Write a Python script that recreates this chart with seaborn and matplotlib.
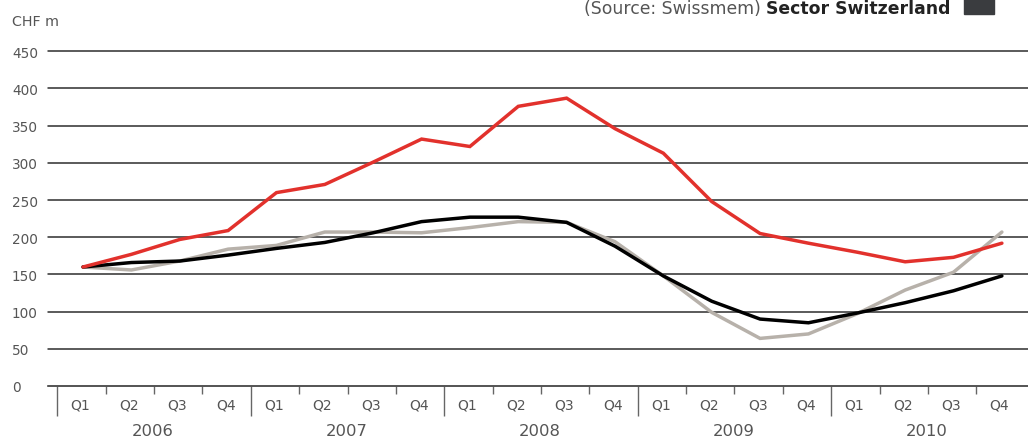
import numpy as np
import pandas as pd
import seaborn as sns
import matplotlib
matplotlib.use("Agg")
import matplotlib.pyplot as plt
from matplotlib.patches import Rectangle

# ---- data -------------------------------------------------------------
years = ["2006", "2007", "2008", "2009", "2010"]
quarters = ["Q1", "Q2", "Q3", "Q4"]

sector = [160, 177, 197, 209, 260, 271, 301, 332, 322, 376,
          387, 346, 313, 248, 205, 192, 180, 167, 173, 192]
industry = [160, 156, 168, 184, 189, 207, 207, 206, 213, 221,
            220, 194, 148, 99, 64, 70, 97, 129, 153, 207]
group = [160, 166, 168, 176, 185, 193, 206, 221, 227, 227,
         220, 188, 148, 114, 90, 85, 98, 112, 128, 148]

yticks = [0, 50, 100, 150, 200, 250, 300, 350, 400, 450]

# ---- long form table for seaborn --------------------------------------
n = len(sector)
pos = np.arange(n)
df = pd.concat([
    pd.DataFrame({"pos": pos, "value": industry, "series": "Industry"}),
    pd.DataFrame({"pos": pos, "value": group, "series": "Group"}),
    pd.DataFrame({"pos": pos, "value": sector, "series": "Sector"}),
])
palette = {"Industry": "#b7b1aa", "Group": "#000000", "Sector": "#e2312c"}

sns.set_style("white")
plt.rcParams["font.family"] = ["DejaVu Sans"]

W, H = 1028, 439
fig = plt.figure(figsize=(W / 100, H / 100), dpi=100)
ax_left, ax_bottom_px, ax_top_px = 48, 387, 52.3
ax = fig.add_axes([ax_left / W, 1 - ax_bottom_px / H, 1 - ax_left / W,
                   (ax_bottom_px - ax_top_px) / H])

# horizontal rules
for v in yticks:
    ax.axhline(v, color="#2e2e2e", lw=1.1, zorder=1, clip_on=False)

sns.lineplot(data=df, x="pos", y="value", hue="series",
             hue_order=["Industry", "Group", "Sector"], palette=palette,
             linewidth=2.5, legend=False, ax=ax, zorder=3)
for ln in ax.lines:
    ln.set_solid_joinstyle("miter")

ax.set_ylim(0, 450)
ax.set_xlim(-0.724, 19.54)
ax.set_xlabel("")
ax.set_ylabel("")
for s in ["top", "right", "left"]:
    ax.spines[s].set_visible(False)
ax.spines["bottom"].set_color("#555555")
ax.spines["bottom"].set_linewidth(1.1)

# y labels, left aligned at the figure margin
ax.set_yticks(yticks)
ax.set_yticklabels([str(v) for v in yticks])
ax.tick_params(axis="y", length=0, pad=25.9, labelsize=9.8,
               labelcolor="#555555")
for lab in ax.get_yticklabels():
    lab.set_horizontalalignment("left")

# x ticks: long separators between years, short between quarters
offset = 0.53
major = [4 * k - offset for k in range(len(years))]
minor = [i - offset for i in range(1, n) if i % 4 != 0]
ax.set_xticks(major)
ax.set_xticks(minor, minor=True)
ax.set_xticklabels([])
ax.tick_params(axis="x", which="both", bottom=True)
ax.tick_params(axis="x", which="major", direction="out", length=21.6,
               width=1.0, color="#666666")
ax.tick_params(axis="x", which="minor", direction="out", length=5.8,
               width=1.0, color="#666666")

for i in range(n):
    ax.annotate(quarters[i % 4], xy=(i - 0.05, 0),
                xycoords=("data", "axes fraction"),
                xytext=(0, -13.2), textcoords="offset points",
                ha="center", va="center", fontsize=10, color="#555555")
for k, yr in enumerate(years):
    ax.annotate(yr, xy=(4 * k + 1.45, 0),
                xycoords=("data", "axes fraction"),
                xytext=(0, -31.8), textcoords="offset points",
                ha="center", va="center", fontsize=11.8, color="#555555")

fig.text(12 / W, 1 - 22 / H, "CHF m", ha="left", va="center",
         fontsize=10.3, color="#555555")

# heading at the top edge
base = 1 - 13.5 / H
bold = fig.text(950 / W, base, "Sector Switzerland", ha="right",
                va="baseline", fontsize=12.4, fontweight="bold",
                color="#222222")
fig.canvas.draw()
bb = bold.get_window_extent()
fig.text((bb.x0 - 5) / W, base, "(Source: Swissmem)", ha="right",
         va="baseline", fontsize=12.4, color="#555555")
fig.patches.append(Rectangle((964 / W, 1 - 15 / H), 30 / W, 15 / H,
                             transform=fig.transFigure, color="#3a3c3f",
                             zorder=5))

fig.savefig("out.png", dpi=100)
